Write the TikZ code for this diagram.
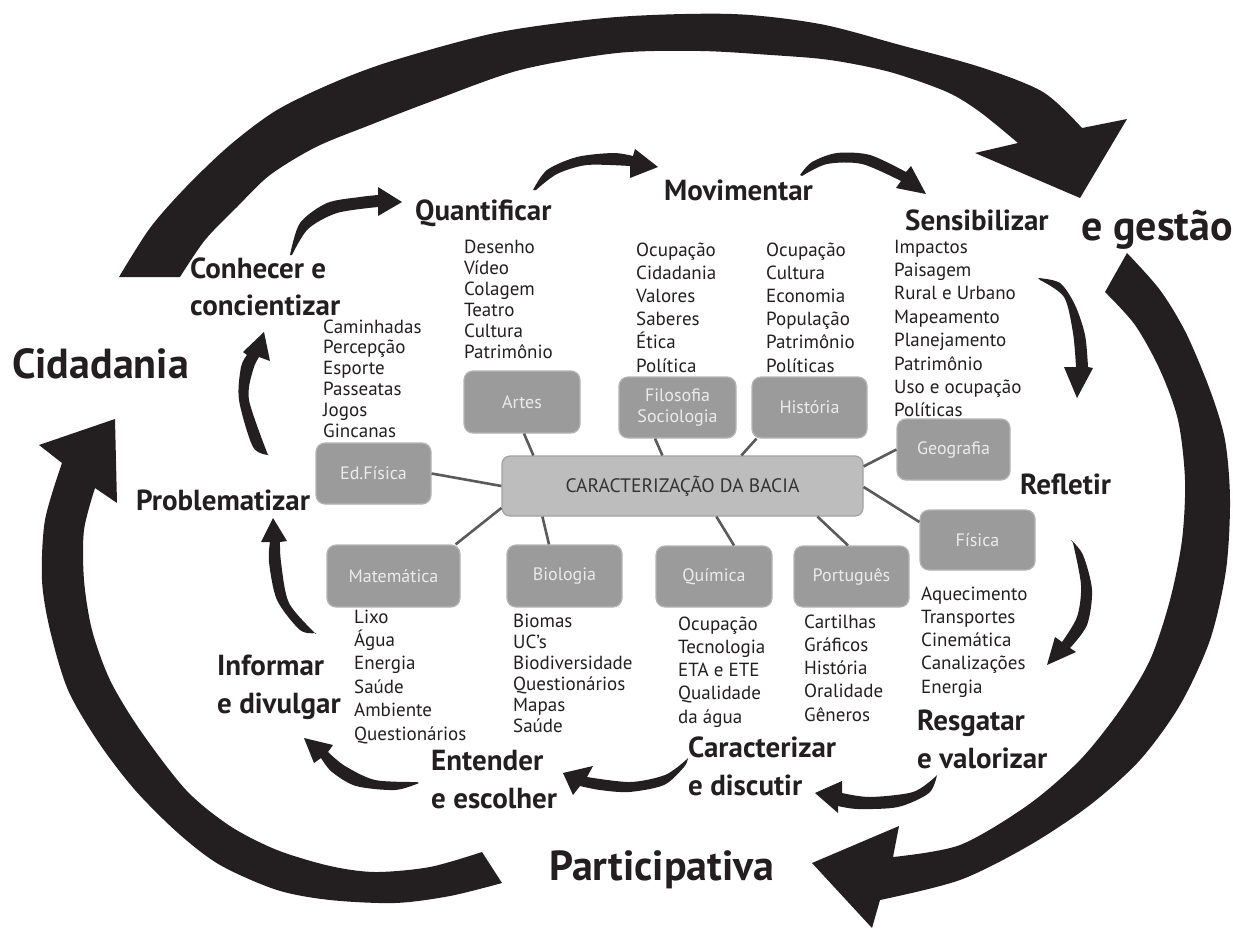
\documentclass[tikz,border=0pt]{standalone}
\usepackage{fontspec}
\setmainfont{PT Sans}
\usetikzlibrary{calc}

\definecolor{ink}{HTML}{231F20}
\definecolor{boxfill}{HTML}{9B9B9B}
\definecolor{boxline}{HTML}{B4B4B4}
\definecolor{hubfill}{HTML}{BDBDBD}
\definecolor{hubline}{HTML}{A2A2A2}
\definecolor{linkgray}{HTML}{5A5A5A}
\definecolor{hubtext}{HTML}{333333}

% tapered, curved arrow: outer edge, head wing, tip, head wing, inner edge
\newcommand\flow[5]{\fill[ink] plot[smooth] coordinates {#1} -- #2 -- #3 -- #4 -- plot[smooth] coordinates {#5} -- cycle;}

% column of words, one node per line
\newcommand\wordlist[5]{%
  \foreach \w [count=\k from 0] in {#5} {\node[listtext] (#1-\k) at (#2, #3 + \k*#4) {\w};}}

\begin{document}
\begin{tikzpicture}[x=1pt, y=-1pt,
  listtext/.style={anchor=base west, inner sep=0pt, text=ink, font=\fontsize{19}{22}\selectfont},
  stage/.style={anchor=base west, inner sep=0pt, text=ink, font=\bfseries\fontsize{29}{32}\selectfont},
  bigword/.style={anchor=base west, inner sep=0pt, text=ink, font=\bfseries\fontsize{42}{46}\selectfont},
  subject/.style={draw=boxline, line width=1.2pt, fill=boxfill, rounded corners=9pt,
    text=white!92!black, font=\fontsize{18}{21}\selectfont, align=center, inner sep=0pt},
  hub/.style={draw=hubline, line width=1.2pt, fill=hubfill, rounded corners=8pt,
    text=hubtext, font=\fontsize{19.5}{22}\selectfont, inner sep=0pt},
  link/.style={draw=linkgray, line width=2.6pt}]

\fill[white] (0,0) rectangle (1233,929);
\useasboundingbox (0,0) rectangle (1233,929);

% ---------- outer cycle ----------
\fill[ink] plot[smooth] coordinates {(119,277) (150,228) (186,187) (230,145) (277,110) (335,82) (395,60) (500,32) (617,17) (732,14) (820,24) (900,45) (980,67) (1043,92) (1082,128)}
  -- (1127,119) -- (1080,198) -- (975,153)
  -- plot[smooth] coordinates {(1018,143) (980,112) (947,92) (890,72) (830,60) (771,55) (700,51) (617,53) (520,70) (435,100) (370,125) (316,147) (270,175) (237,207) (205,240) (180,277)} -- cycle;

\fill[ink] plot[smooth] coordinates {(1127,253) (1160,290) (1186,333) (1210,390) (1225,440) (1230,500) (1226,570) (1210,640) (1180,705) (1140,760) (1090,805) (1030,845) (960,880) (880,900)}
  -- (872,928) -- (812,863) -- (899,826)
  -- plot[smooth] coordinates {(893,857) (960,845) (1028,805) (1080,760) (1120,710) (1150,660) (1170,600) (1182,540) (1185,480) (1178,420) (1160,370) (1135,325) (1105,292)} -- cycle;

\fill[ink] plot[smooth] coordinates {(502,883) (450,896) (395,903) (330,900) (277,890) (220,865) (178,833) (135,790) (99,743) (68,690) (50,630) (42,580) (45,520) (62,463)}
  -- (39,445) -- (115,419) -- (117,503)
  -- plot[smooth] coordinates {(95,488) (84,530) (84,580) (92,630) (110,680) (140,730) (186,790) (230,826) (277,850) (330,866) (375,872) (430,867) (482,852)} -- cycle;

\node[bigword] (cid) at (12,378) {Cidadania};
\node[bigword] (ges) at (1081,240) {e gestão};
\node[bigword] (par) at (549,880) {Participativa};

% ---------- inner cycle ----------
\flow{(290,255) (300,223) (327,203) (360,197) (378,195)}{(378,187)}{(402,202)}{(378,216)}{(378,207) (337,213) (308,229) (292,255)}
\flow{(533,190) (547,170) (577,157) (613,153) (633,156)}{(635,149)}{(658,167)}{(630,178)}{(630,166) (587,165) (557,174) (536,190)}
\flow{(800,175) (812,162) (837,153) (870,155) (906,172)}{(911,166)}{(926,194)}{(896,188)}{(901,181) (862,164) (827,164) (802,176)}
\flow{(1038,278) (1060,283) (1075,305) (1085,335) (1088,367)}{(1093,368)}{(1077,398)}{(1064,367)}{(1076,367) (1073,333) (1064,297) (1040,280)}
\flow{(1071,540) (1083,555) (1092,590) (1087,625) (1070,648)}{(1076,652)}{(1047,665)}{(1055,637)}{(1062,642) (1077,617) (1081,585) (1073,543)}
\flow{(937,775) (929,793) (898,807) (858,809) (838,806)}{(838,813)}{(815,793)}{(842,781)}{(842,793) (870,797) (913,792) (935,777)}
\flow{(688,758) (684,767) (664,785) (629,792) (600,790) (580,786)}{(573,795)}{(563,773)}{(593,766)}{(587,777) (630,782) (665,775) (686,760)}
\flow{(419,783) (395,790) (356,786) (332,772) (321,758)}{(314,763)}{(304,738)}{(333,745)}{(328,752) (345,766) (375,780) (417,782)}
\flow{(316,633) (300,630) (277,600) (269,562) (270,542)}{(261,542)}{(273,518)}{(287,541)}{(280,542) (281,562) (289,603) (316,634)}
\flow{(269,455) (253,447) (239,400) (241,367) (247,355)}{(243,352)}{(264,332)}{(270,361)}{(259,357) (253,370) (249,400) (268,455)}

\node[stage] (con1) at (190,278) {Conhecer e};
\node[stage] (con2) at (190,315) {concientizar};
\node[stage] (qua) at (415,220) {Quantificar};
\node[stage] (mov) at (664,200) {Movimentar};
\node[stage] (sen) at (905,230) {Sensibilizar};
\node[stage] (ref) at (1020,494) {Refletir};
\node[stage] (res1) at (917,730) {Resgatar};
\node[stage] (res2) at (917,768) {e valorizar};
\node[stage] (car1) at (688,757) {Caracterizar};
\node[stage] (car2) at (688,795) {e discutir};
\node[stage] (ent1) at (431,770) {Entender};
\node[stage] (ent2) at (431,808) {e escolher};
\node[stage] (inf1) at (217,675) {Informar};
\node[stage] (inf2) at (217,713) {e divulgar};
\node[stage] (pro) at (136,510) {Problematizar};

% ---------- subjects ----------
\node[hub, minimum width=361pt, minimum height=60pt] (hubbox) at (682.5,486) {CARACTERIZAÇÃO DA BACIA};
\node[subject, minimum width=116pt, minimum height=62pt] (art) at (522,402) {Artes};
\node[subject, minimum width=115pt, minimum height=61pt] (edf) at (373.5,473.5) {Ed.Física};
\node[subject, minimum width=117pt, minimum height=61pt] (fil) at (677.5,407.5) {Filosofia\\Sociologia};
\node[subject, minimum width=115pt, minimum height=61pt] (his) at (809.5,407.5) {História};
\node[subject, minimum width=113pt, minimum height=61pt] (geo) at (953.5,449.5) {Geografia};
\node[subject, minimum width=133pt, minimum height=62pt] (mat) at (393.5,576) {Matemática};
\node[subject, minimum width=115pt, minimum height=62pt] (bio) at (564.5,576) {Biologia};
\node[subject, minimum width=116pt, minimum height=61pt] (qui) at (714,576.5) {Química};
\node[subject, minimum width=115pt, minimum height=61pt] (por) at (851.5,576.5) {Português};
\node[subject, minimum width=115pt, minimum height=60pt] (fis) at (977.5,540) {Física};

\draw[link] (edf.east) -- (hubbox.west);
\draw[link] ($(mat.north east)+(-5,0)$) -- ($(hubbox.west)+(0,22)$);
\draw[link] ($(hubbox.south west)+(41,0)$) -- ($(bio.north)+(-15.5,0)$);
\draw[link] ($(art.south)+(2,0)$) -- ($(hubbox.north west)+(32,0)$);
\draw[link] ($(fil.south)+(-22.5,0)$) -- ($(hubbox.north west)+(161,0)$);
\draw[link] ($(his.south)+(-53,0)$) -- ($(hubbox.north west)+(240,0)$);
\draw[link] (geo.west) -- ($(hubbox.north east)+(0,11)$);
\draw[link] ($(hubbox.east)+(0,1)$) -- ($(fis.west)+(0,-18)$);
\draw[link] ($(hubbox.south west)+(215,0)$) -- ($(qui.north)+(20,0)$);
\draw[link] ($(hubbox.south west)+(316,0)$) -- ($(por.north)+(-3.5,0)$);

% ---------- topic lists ----------
\wordlist{lq}{464}{253}{21}{Desenho,Vídeo,Colagem,Teatro,Cultura,Patrimônio}
\wordlist{le}{323}{333}{20.8}{Caminhadas,Percepção,Esporte,Passeatas,Jogos,Gincanas}
\wordlist{lf}{636}{256}{23.2}{Ocupação,Cidadania,Valores,Saberes,Ética,Política}
\wordlist{lh}{766}{256}{23.2}{Ocupação,Cultura,Economia,População,Patrimônio,Políticas}
\wordlist{lg}{894}{253}{23.4}{Impactos,Paisagem,Rural e Urbano,Mapeamento,Planejamento,Patrimônio,Uso e ocupação,Políticas}
\wordlist{lm}{354}{623}{23.4}{Lixo,Água,Energia,Saúde,Ambiente,Questionários}
\wordlist{lb}{513}{627}{21}{Biomas,UC’s,Biodiversidade,Questionários,Mapas,Saúde}
\wordlist{lc}{678}{630}{23.25}{Ocupação,Tecnologia,ETA e ETE,Qualidade,da água}
\wordlist{lp}{804}{628}{23.25}{Cartilhas,Gráficos,História,Oralidade,Gêneros}
\wordlist{ly}{921}{600}{23.25}{Aquecimento,Transportes,Cinemática,Canalizações,Energia}

\end{tikzpicture}
\end{document}
